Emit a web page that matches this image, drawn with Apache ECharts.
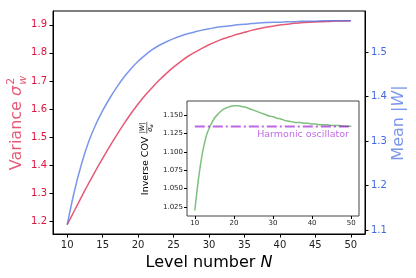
<!DOCTYPE html>
<html><head><meta charset="utf-8">
<script src="https://cdn.jsdelivr.net/npm/echarts@6/dist/echarts.min.js"></script>
<style>html,body{margin:0;padding:0;background:#fff}#c{width:416px;height:278px}</style>
</head><body><div id="c"></div>
<script>
// ---- data ----
const levelN = [10,11,12,13,14,15,16,17,18,19,20,21,22,23,24,25,26,27,28,29,30,31,32,33,34,35,36,37,38,39,40,41,42,43,44,45,46,47,48,49,50];
const variance = [1.188,1.237,1.286,1.334,1.380,1.424,1.467,1.508,1.547,1.584,1.618,1.649,1.677,1.703,1.727,1.749,1.769,1.787,1.802,1.816,1.829,1.840,1.850,1.858,1.866,1.873,1.880,1.886,1.891,1.895,1.899,1.902,1.905,1.907,1.909,1.910,1.911,1.912,1.913,1.913,1.914];
const meanW = [1.112,1.186,1.247,1.297,1.336,1.368,1.396,1.421,1.443,1.462,1.479,1.493,1.505,1.515,1.523,1.530,1.536,1.541,1.545,1.549,1.552,1.555,1.557,1.559,1.561,1.562,1.564,1.565,1.566,1.567,1.567,1.568,1.568,1.569,1.569,1.569,1.570,1.570,1.570,1.570,1.570];
const invCov = [1.020,1.066,1.100,1.123,1.136,1.146,1.152,1.157,1.160,1.162,1.163,1.163,1.162,1.161,1.159,1.157,1.155,1.153,1.151,1.149,1.148,1.146,1.145,1.143,1.142,1.141,1.140,1.140,1.139,1.139,1.138,1.138,1.137,1.137,1.137,1.136,1.136,1.136,1.135,1.135,1.135];
const harmonicN = [10, 50];
const harmonicValue = [1.1346, 1.1346];
const harmonicLabel = 'Harmonic oscillator';

const xTicks = [10,15,20,25,30,35,40,45,50];
const varTicks = [1.2,1.3,1.4,1.5,1.6,1.7,1.8,1.9];
const meanTicks = [1.1,1.2,1.3,1.4,1.5];
const insetXTicks = [10,20,30,40,50];
const insetYTicks = [1.025,1.05,1.075,1.1,1.125,1.15];

// ---- style ----
const FF = '"DejaVu Sans", sans-serif';
const RED = 'rgba(220,20,60,0.7)', RED_T = '#dc143c';
const BLUE = 'rgba(65,105,225,0.7)', BLUE_T = '#4169e1';
const GREEN = 'rgba(0,128,0,0.5)';
const PURPLE = 'rgba(148,0,211,0.6)';

const cv = document.createElement('canvas').getContext('2d');
function tw(t, font){ cv.font = font; return cv.measureText(t).width; }

function leftLabel(){
  const f = '16px ' + FF, fi = 'italic 16px ' + FF, fs = '11px ' + FF, fsi = 'italic 11px ' + FF;
  const w1 = tw('Variance ', f), w2 = tw('σ', fi), w3 = Math.max(tw('2', fs), tw('w', fsi));
  const x0 = -(w1 + w2 + w3 + 1) / 2;
  return {type:'group', x:17, y:123, rotation:Math.PI/2, children:[
    {type:'text', x:x0, y:0, style:{text:'Variance ', font:f, fill:RED, align:'left', verticalAlign:'middle'}},
    {type:'text', x:x0+w1, y:0, style:{text:'σ', font:fi, fill:RED, align:'left', verticalAlign:'middle'}},
    {type:'text', x:x0+w1+w2+1, y:-6, style:{text:'2', font:fs, fill:RED, align:'left', verticalAlign:'middle'}},
    {type:'text', x:x0+w1+w2+1, y:6, style:{text:'w', font:fsi, fill:RED, align:'left', verticalAlign:'middle'}}
  ]};
}
function rightLabel(){
  const f = '16px ' + FF, fi = 'italic 16px ' + FF;
  const w1 = tw('Mean |', f), w2 = tw('W', fi), w3 = tw('|', f);
  const x0 = -(w1 + w2 + w3) / 2;
  return {type:'group', x:399, y:123, rotation:Math.PI/2, children:[
    {type:'text', x:x0, y:0, style:{text:'Mean |', font:f, fill:BLUE, align:'left', verticalAlign:'middle'}},
    {type:'text', x:x0+w1, y:0, style:{text:'W', font:fi, fill:BLUE, align:'left', verticalAlign:'middle'}},
    {type:'text', x:x0+w1+w2, y:0, style:{text:'|', font:f, fill:BLUE, align:'left', verticalAlign:'middle'}}
  ]};
}
function insetLabel(){
  const f = '9.5px ' + FF, fs = '6.5px ' + FF, fsi = 'italic 6.5px ' + FF, fss = 'italic 5px ' + FF;
  const w1 = tw('Inverse COV ', f);
  const num = tw('|', fs)*2 + tw('W', fsi);
  const den = tw('σ', fsi) + tw('w', fss);
  const fw = Math.max(num, den) + 1;
  const x0 = -(w1 + fw) / 2;
  const fc = x0 + w1 + fw/2;
  return {type:'group', x:146, y:158.5, rotation:Math.PI/2, children:[
    {type:'text', x:x0, y:0, style:{text:'Inverse COV ', font:f, fill:'#000', align:'left', verticalAlign:'middle'}},
    {type:'text', x:fc - num/2, y:-3.2, style:{text:'|', font:fs, fill:'#000', align:'left', verticalAlign:'middle'}},
    {type:'text', x:fc - num/2 + tw('|', fs), y:-3.2, style:{text:'W', font:fsi, fill:'#000', align:'left', verticalAlign:'middle'}},
    {type:'text', x:fc - num/2 + tw('|', fs) + tw('W', fsi), y:-3.2, style:{text:'|', font:fs, fill:'#000', align:'left', verticalAlign:'middle'}},
    {type:'line', shape:{x1:fc - fw/2, y1:0.8, x2:fc + fw/2, y2:0.8}, style:{stroke:'#000', lineWidth:0.6}},
    {type:'text', x:fc - den/2, y:4.6, style:{text:'σ', font:fsi, fill:'#000', align:'left', verticalAlign:'middle'}},
    {type:'text', x:fc - den/2 + tw('σ', fsi), y:5.8, style:{text:'w', font:fss, fill:'#000', align:'left', verticalAlign:'middle'}}
  ]};
}

const chart = echarts.init(document.getElementById('c'), null, {renderer:'canvas'});
const tickStyle = {color:'#000', width:1};
chart.setOption({
  animation:false,
  backgroundColor:'#fff',
  grid:[
    {left:53, top:11, width:312, height:223, show:true, borderColor:'#000', borderWidth:1, backgroundColor:'transparent'},
    {left:187, top:101, width:172, height:115, show:true, borderColor:'#444', borderWidth:1, backgroundColor:'#fff'}
  ],
  xAxis:[
    {gridIndex:0, type:'value', min:8, max:52,
     axisLine:{lineStyle:{color:'#000', width:1}},
     axisTick:{customValues:xTicks, length:3.5, lineStyle:tickStyle},
     axisLabel:{customValues:xTicks, fontSize:10, color:'#222', fontFamily:FF, margin:6},
     splitLine:{show:false},
     name:'{a|Level number }{b|N}', nameLocation:'middle', nameGap:18,
     nameTextStyle:{rich:{a:{fontSize:16, fontFamily:FF, color:'#000'}, b:{fontSize:16, fontFamily:FF, fontStyle:'italic', color:'#000'}}}
    },
    {gridIndex:1, type:'value', min:8, max:52,
     axisLine:{show:false},
     axisTick:{customValues:insetXTicks, length:3, lineStyle:tickStyle},
     axisLabel:{customValues:insetXTicks, fontSize:7, color:'#222', fontFamily:FF, margin:4},
     splitLine:{show:false}
    }
  ],
  yAxis:[
    {gridIndex:0, type:'value', position:'left', min:1.155, max:1.949,
     axisLine:{show:true, lineStyle:{color:'#000', width:1}},
     axisTick:{show:true, customValues:varTicks, length:3.5, lineStyle:tickStyle},
     axisLabel:{customValues:varTicks, fontSize:10, color:RED_T, fontFamily:FF, margin:6, formatter:v=>v.toFixed(1)},
     splitLine:{show:false}
    },
    {gridIndex:0, type:'value', position:'right', min:1.091, max:1.592,
     axisLine:{show:true, lineStyle:{color:'#000', width:1}},
     axisTick:{show:true, customValues:meanTicks, length:3.5, lineStyle:tickStyle},
     axisLabel:{customValues:meanTicks, fontSize:10, color:BLUE_T, fontFamily:FF, margin:6, formatter:v=>v.toFixed(1)},
     splitLine:{show:false}
    },
    {gridIndex:1, type:'value', min:1.0125, max:1.1695,
     axisLine:{show:false},
     axisTick:{show:true, customValues:insetYTicks, length:3, lineStyle:tickStyle},
     axisLabel:{customValues:insetYTicks, fontSize:7, color:'#222', fontFamily:FF, margin:4, formatter:v=>v.toFixed(3)},
     splitLine:{show:false}
    }
  ],
  series:[
    {type:'line', xAxisIndex:0, yAxisIndex:0, data:levelN.map((n,i)=>[n, variance[i]]), symbol:'none', smooth:0.3, lineStyle:{color:RED, width:1.5}},
    {type:'line', xAxisIndex:0, yAxisIndex:1, data:levelN.map((n,i)=>[n, meanW[i]]), symbol:'none', smooth:0.3, lineStyle:{color:BLUE, width:1.5}},
    {type:'line', xAxisIndex:1, yAxisIndex:2, data:levelN.map((n,i)=>[n, invCov[i]]), symbol:'none', smooth:0.3, lineStyle:{color:GREEN, width:1.5}},
    {type:'line', xAxisIndex:1, yAxisIndex:2, data:harmonicN.map((n,i)=>[n, harmonicValue[i]]), symbol:'none', lineStyle:{color:PURPLE, width:2, type:[10,3,2,3]}}
  ],
  graphic:[
    leftLabel(), rightLabel(), insetLabel(),
    {type:'text', x:349, y:134.5, style:{text:harmonicLabel, font:'9.5px ' + FF, fill:PURPLE, align:'right', verticalAlign:'middle'}}
  ]
});
</script></body></html>
